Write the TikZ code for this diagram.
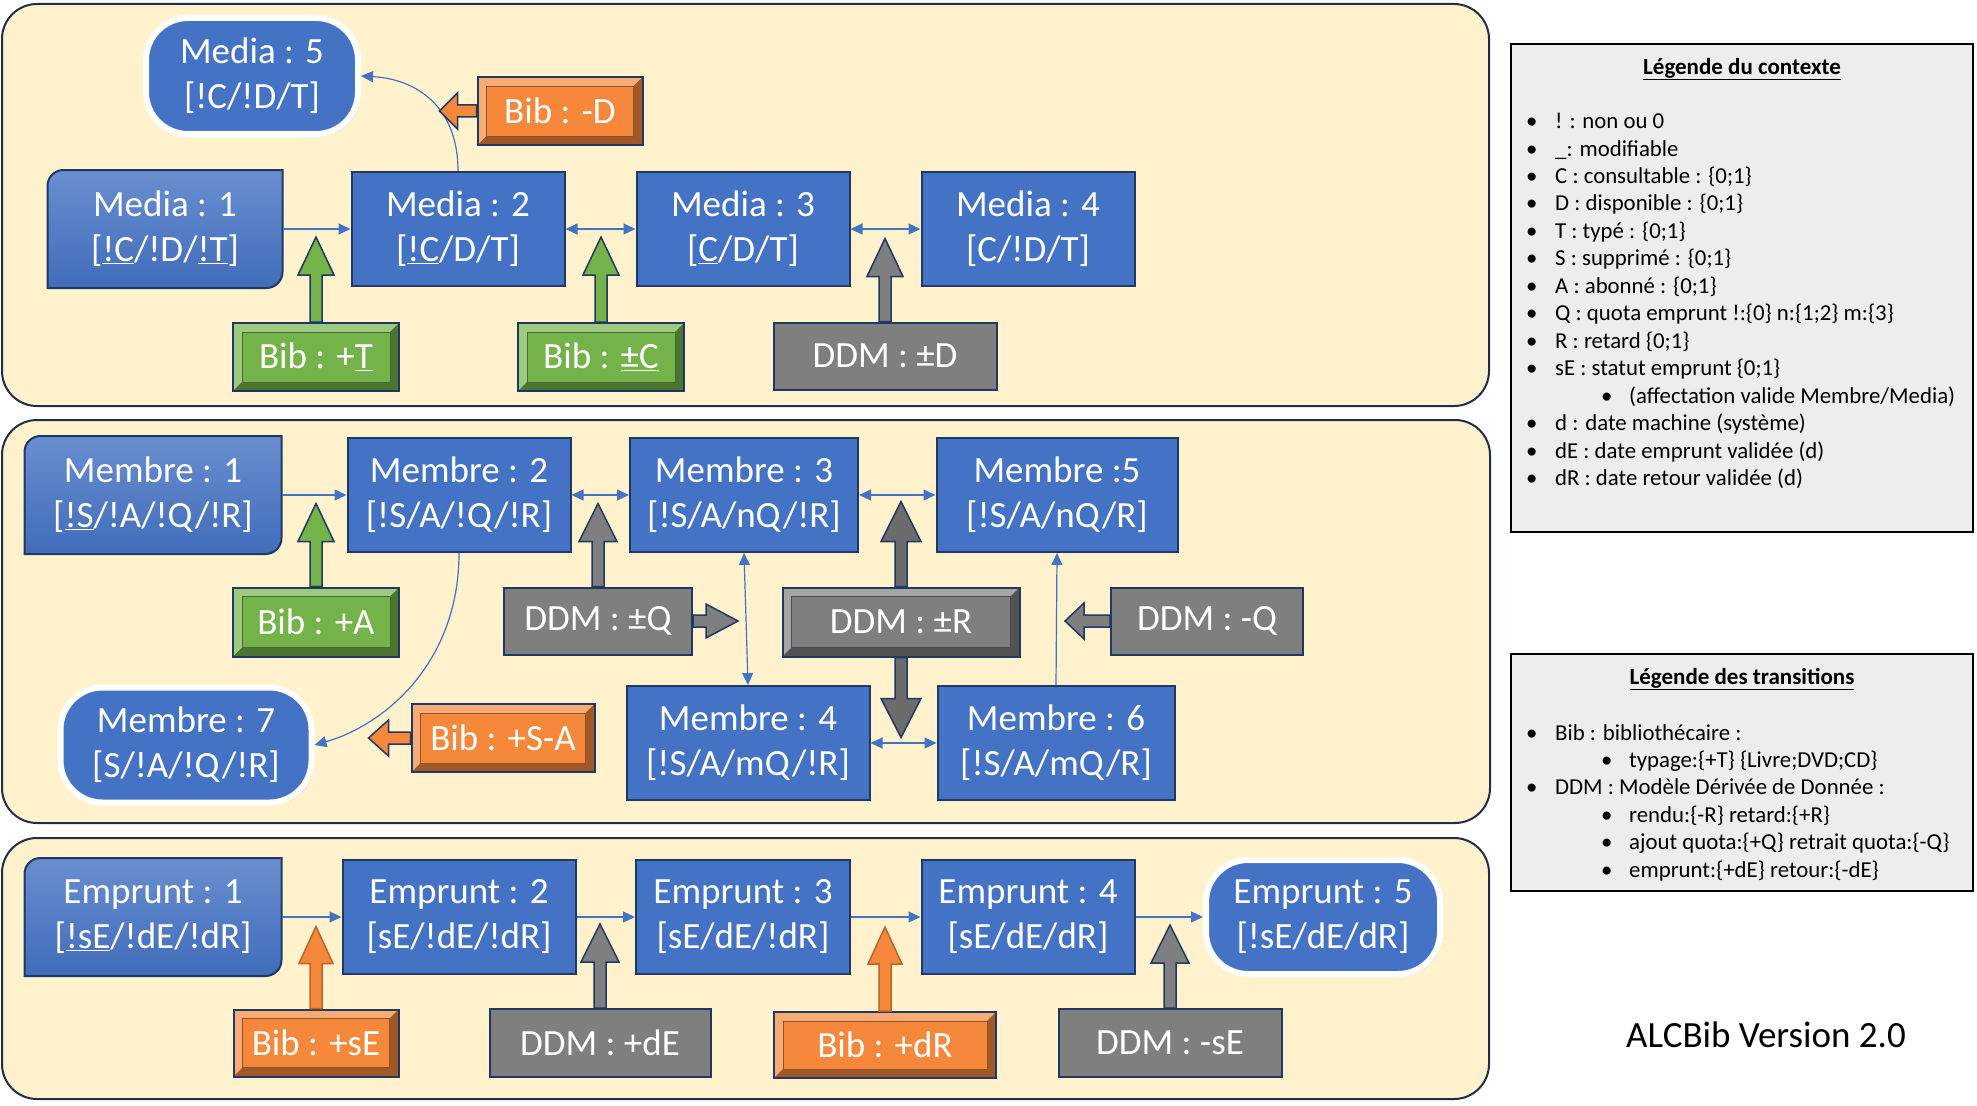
\documentclass[tikz,border=0pt]{standalone}
\usepackage{fontspec}
\setmainfont{Carlito}
\usetikzlibrary{arrows.meta,calc,backgrounds,shadows}

\definecolor{panelfill}{HTML}{FFF2CC}
\definecolor{paneledge}{HTML}{1F2D4A}
\definecolor{stblue}{HTML}{4472C4}
\definecolor{navy}{HTML}{1F3864}
\definecolor{ddmgray}{HTML}{7F7F7F}
\definecolor{bibgreen}{HTML}{74B24A}
\definecolor{biborange}{HTML}{F5883A}
\definecolor{legfill}{HTML}{EDEDED}

% big block arrow: style, start, tip, head length, head half width
\newcommand{\blockarrow}[5]{%
  \path ($(#3)!#4!(#2)$) coordinate (bah);
  \draw[#1] ($(#2)!6pt!90:(#3)$) -- ($(bah)!6pt!90:(#3)$) -- ($(bah)!#5!90:(#3)$) -- (#3)
    -- ($(bah)!#5!-90:(#3)$) -- ($(bah)!6pt!-90:(#3)$) -- ($(#2)!6pt!-90:(#3)$) -- cycle;}

\tikzset{
  panel/.style={draw=paneledge, line width=2pt, fill=panelfill, rounded corners=35pt},
  box/.style={rectangle, draw=navy, line width=2pt, text=white, align=center, inner sep=0pt,
    font=\fontsize{37}{45}\selectfont},
  statebox/.style={box, fill=stblue, minimum height=114pt},
  firstbox/.style={box, draw=none, minimum height=116pt},
  endbox/.style={box, fill=stblue, draw=white, line width=6pt, rounded corners=42pt,
    drop shadow={opacity=0.3}},
  ddm/.style={box, fill=ddmgray, minimum height=67pt},
  bevel/.style={path picture={
    \path (path picture bounding box.north west) coordinate (bvnw)
          (path picture bounding box.north east) coordinate (bvne)
          (path picture bounding box.south west) coordinate (bvsw)
          (path picture bounding box.south east) coordinate (bvse);
    \fill[#1!70!white] (bvnw) -- (bvne) -- ([shift={(-9pt,-9pt)}]bvne) -- ([shift={(9pt,-9pt)}]bvnw)
      -- ([shift={(9pt,9pt)}]bvsw) -- (bvsw) -- cycle;
    \fill[#1!65!black] (bvse) -- (bvsw) -- ([shift={(9pt,9pt)}]bvsw) -- ([shift={(-9pt,9pt)}]bvse)
      -- ([shift={(-9pt,-9pt)}]bvne) -- (bvne) -- cycle;
    \draw[#1!60!black, line width=0.8pt] ([shift={(9pt,-9pt)}]bvnw) rectangle ([shift={(-9pt,9pt)}]bvse);}},
  bib/.style={box, fill=#1, bevel=#1, minimum height=68pt},
  flow/.style={draw=stblue, line width=1.2pt, -{Triangle[length=12pt,width=11pt]}},
  twoway/.style={flow, {Triangle[length=12pt,width=11pt]}-{Triangle[length=12pt,width=11pt]}},
  barrow/.style={draw=navy, line width=1.5pt, fill=#1},
  legend/.style={draw=black, line width=2pt, fill=legfill},
  legtext/.style={align=left, inner sep=0pt, anchor=north west, font=\fontsize{22.8}{27.45}\selectfont},
}

\begin{document}
\begin{tikzpicture}[x=1pt, y=-1pt]
\useasboundingbox (0,0) rectangle (1977,1105);

\begin{scope}[on background layer]
\draw[panel] (2,4) rectangle (1489,406);
\draw[panel] (2,420) rectangle (1490,823);
\draw[panel] (2,838) rectangle (1489,1099);
\end{scope}

% Media
\node[endbox, minimum width=212pt, minimum height=116pt] (m5) at (252,76) {Media : 5\\{}[!C/!D/T]};
\node[firstbox, minimum width=233pt] (m1) at (165,229) {Media : 1\\{}[\underline{!C}/!D/\underline{!T}]};
\node[statebox, minimum width=213pt] (m2) at (458,229) {Media : 2\\{}[\underline{!C}/D/T]};
\node[statebox, minimum width=213pt] (m3) at (743,229) {Media : 3\\{}[\underline{C}/D/T]};
\node[statebox, minimum width=213pt] (m4) at (1028,229) {Media : 4\\{}[C/!D/T]};
\node[bib=biborange, minimum width=165pt] (bD) at (560,111) {Bib : -D};
\node[bib=bibgreen, minimum width=166pt] (bT) at (316,357) {Bib : +\underline{T}};
\node[bib=bibgreen, minimum width=166pt] (bC) at (601,357) {Bib : \underline{±C}};
\node[ddm, minimum width=223pt] (dD) at (885,356) {DDM : ±D};

% Membre
\node[firstbox, minimum width=255pt] (mb1) at (153,495) {Membre : 1\\{}[\underline{!S}/!A/!Q/!R]};
\node[statebox, minimum width=223pt] (mb2) at (459,495) {Membre : 2\\{}[!S/A/!Q/!R]};
\node[statebox, minimum width=228pt] (mb3) at (744,495) {Membre : 3\\{}[!S/A/nQ/!R]};
\node[statebox, minimum width=241pt] (mb5) at (1057,495) {Membre :5\\{}[!S/A/nQ/R]};
\node[statebox, minimum width=243pt] (mb4) at (748,743) {Membre : 4\\{}[!S/A/mQ/!R]};
\node[statebox, minimum width=237pt] (mb6) at (1056,743) {Membre : 6\\{}[!S/A/mQ/R]};
\node[endbox, minimum width=251pt, minimum height=115pt] (mb7) at (186,745) {Membre : 7\\{}[S/!A/!Q/!R]};
\node[bib=bibgreen, minimum width=166pt, minimum height=69pt] (bA) at (316,622) {Bib : +A};
\node[ddm, minimum width=188pt] (dQ) at (598,621) {DDM : ±Q};
\node[ddm, bevel=ddmgray, minimum width=237pt, minimum height=69pt] (dR) at (901,622) {DDM : ±R};
\node[ddm, minimum width=192pt] (dQm) at (1207,621) {DDM : -Q};
\node[bib=biborange, minimum width=183pt] (bSA) at (503,738) {Bib : +S-A};

% Emprunt
\node[firstbox, minimum width=255pt] (e1) at (153,917) {Emprunt : 1\\{}[\underline{!sE}/!dE/!dR]};
\node[statebox, minimum width=233pt] (e2) at (459,917) {Emprunt : 2\\{}[sE/!dE/!dR]};
\node[statebox, minimum width=214pt] (e3) at (743,917) {Emprunt : 3\\{}[sE/dE/!dR]};
\node[statebox, minimum width=213pt] (e4) at (1028,917) {Emprunt : 4\\{}[sE/dE/dR]};
\node[endbox, minimum width=234pt, minimum height=114pt] (e5) at (1323,917) {Emprunt : 5\\{}[!sE/dE/dR]};
\node[bib=biborange, minimum width=165pt, minimum height=67pt] (bsE) at (316,1043) {Bib : +sE};
\node[ddm, minimum width=221pt, minimum height=68pt] (ddE) at (600,1043) {DDM : +dE};
\node[bib=biborange, minimum width=222pt, minimum height=66pt] (bdR) at (885,1045) {Bib : +dR};
\node[ddm, minimum width=223pt, minimum height=68pt] (dsE) at (1170,1043) {DDM : -sE};

\begin{scope}[on background layer]
\draw[navy, line width=2pt, top color=stblue!80!white, bottom color=stblue!95!black] (m1.south west) -- ([yshift=-16pt]m1.north west) arc[start angle=180,end angle=90,radius=16pt] -- (m1.north east) -- ([yshift=16pt]m1.south east) arc[start angle=0,end angle=-90,radius=16pt] -- cycle;
\draw[navy, line width=2pt, top color=stblue!80!white, bottom color=stblue!95!black] (mb1.south west) -- ([yshift=-16pt]mb1.north west) arc[start angle=180,end angle=90,radius=16pt] -- (mb1.north east) -- ([yshift=16pt]mb1.south east) arc[start angle=0,end angle=-90,radius=16pt] -- cycle;
\draw[navy, line width=2pt, top color=stblue!80!white, bottom color=stblue!95!black] (e1.south west) -- ([yshift=-16pt]e1.north west) arc[start angle=180,end angle=90,radius=16pt] -- (e1.north east) -- ([yshift=16pt]e1.south east) arc[start angle=0,end angle=-90,radius=16pt] -- cycle;
\end{scope}

% thin connectors
\draw[flow] (m1.east) -- (m2.west);
\draw[twoway] (m2.east) -- (m3.west);
\draw[twoway] (m3.east) -- (m4.west);
\draw[flow] (m2.north) .. controls +(0,-65) and +(55,3) .. (m5.east);
\draw[flow] (mb1.east) -- (mb2.west);
\draw[twoway] (mb2.east) -- (mb3.west);
\draw[twoway] (mb3.east) -- (mb5.west);
\draw[twoway] (mb3.south) -- (mb4.north);
\draw[twoway] (mb4.east) -- (mb6.west);
\draw[flow] (mb6.north) -- (mb5.south);
\draw[flow] (mb2.south) .. controls +(0,110) and +(70,-20) .. (mb7.east);
\draw[flow] (e1.east) -- (e2.west);
\draw[flow] (e2.east) -- (e3.west);
\draw[flow] (e3.east) -- (e4.west);
\draw[flow] (e4.east) -- (e5.west);

% block arrows
\coordinate (tT) at ($(bT.north)+(0,-85)$);
\coordinate (tC) at ($(bC.north)+(0,-85)$);
\coordinate (tD) at ($(dD.north)+(0,-83)$);
\coordinate (tDm) at ($(bD.west)+(-37,0)$);
\coordinate (tA) at ($(bA.north)+(0,-83)$);
\coordinate (tQ) at ($(dQ.north)+(0,-83)$);
\coordinate (tQr) at ($(dQ.east)+(45,0)$);
\coordinate (tRu) at ($(dR.north)+(0,-85)$);
\coordinate (tRd) at ($(dR.south)+(0,80)$);
\coordinate (tQm) at ($(dQm.west)+(-45,0)$);
\coordinate (tSA) at ($(bSA.west)+(-42,0)$);
\coordinate (tsE) at ($(bsE.north)+(0,-82)$);
\coordinate (tdE) at ($(ddE.north)+(0,-84)$);
\coordinate (tdR) at ($(bdR.north)+(0,-84)$);
\coordinate (tsEm) at ($(dsE.north)+(0,-83)$);
\blockarrow{barrow=bibgreen}{bT.north}{tT}{38pt}{18pt}
\blockarrow{barrow=bibgreen}{bC.north}{tC}{38pt}{18pt}
\blockarrow{barrow=ddmgray}{dD.north}{tD}{38pt}{18pt}
\blockarrow{barrow=biborange}{bD.west}{tDm}{18pt}{18pt}
\blockarrow{barrow=bibgreen}{bA.north}{tA}{38pt}{18pt}
\blockarrow{barrow=ddmgray}{dQ.north}{tQ}{38pt}{19pt}
\blockarrow{barrow=ddmgray}{dQ.east}{tQr}{32pt}{17pt}
\blockarrow{barrow=ddmgray!85!black}{dR.north}{tRu}{40pt}{20pt}
\blockarrow{barrow=ddmgray!85!black}{dR.south}{tRd}{39pt}{20pt}
\blockarrow{barrow=ddmgray}{dQm.west}{tQm}{19pt}{18pt}
\blockarrow{barrow=biborange}{bSA.west}{tSA}{20pt}{18pt}
\blockarrow{barrow=biborange, draw=biborange!75!black}{bsE.north}{tsE}{37pt}{17pt}
\blockarrow{barrow=ddmgray}{ddE.north}{tdE}{38pt}{19pt}
\blockarrow{barrow=biborange, draw=biborange!75!black}{bdR.north}{tdR}{37pt}{17pt}
\blockarrow{barrow=ddmgray}{dsE.north}{tsEm}{38pt}{19pt}

% legends
\draw[legend] (1511,44) rectangle (1973,532);
\node[font=\bfseries\fontsize{23}{27}\selectfont] (ctxtitle) at (1742,69) {\underline{Légende du contexte}};
\node[legtext] (ctxlist) at (1526,113) {%
\makebox[29pt][l]{\textbullet}! : non ou 0\\
\makebox[29pt][l]{\textbullet}\_: modifiable\\
\makebox[29pt][l]{\textbullet}C : consultable : \{0;1\}\\
\makebox[29pt][l]{\textbullet}D : disponible : \{0;1\}\\
\makebox[29pt][l]{\textbullet}T : typé : \{0;1\}\\
\makebox[29pt][l]{\textbullet}S : supprimé : \{0;1\}\\
\makebox[29pt][l]{\textbullet}A : abonné : \{0;1\}\\
\makebox[29pt][l]{\textbullet}Q : quota emprunt !:\{0\} n:\{1;2\} m:\{3\}\\
\makebox[29pt][l]{\textbullet}R : retard \{0;1\}\\
\makebox[29pt][l]{\textbullet}sE : statut emprunt \{0;1\}\\
\hspace*{75pt}\makebox[28pt][l]{\textbullet}(affectation valide Membre/Media)\\
\makebox[29pt][l]{\textbullet}d : date machine (système)\\
\makebox[29pt][l]{\textbullet}dE : date emprunt validée (d)\\
\makebox[29pt][l]{\textbullet}dR : date retour validée (d)};

\draw[legend] (1511,654) rectangle (1973,891);
\node[font=\bfseries\fontsize{23}{27}\selectfont] (trstitle) at (1742,679) {\underline{Légende des transitions}};
\node[legtext] (trslist) at (1526,724) {%
\makebox[29pt][l]{\textbullet}Bib : bibliothécaire :\\
\hspace*{75pt}\makebox[28pt][l]{\textbullet}typage:\{+T\} \{Livre;DVD;CD\}\\
\makebox[29pt][l]{\textbullet}DDM : Modèle Dérivée de Donnée :\\
\hspace*{75pt}\makebox[28pt][l]{\textbullet}rendu:\{-R\} retard:\{+R\}\\
\hspace*{75pt}\makebox[28pt][l]{\textbullet}ajout quota:\{+Q\} retrait quota:\{-Q\}\\
\hspace*{75pt}\makebox[28pt][l]{\textbullet}emprunt:\{+dE\} retour:\{-dE\}};

\node[font=\fontsize{37}{44}\selectfont] (version) at (1766,1035) {ALCBib Version 2.0};
\end{tikzpicture}
\end{document}
